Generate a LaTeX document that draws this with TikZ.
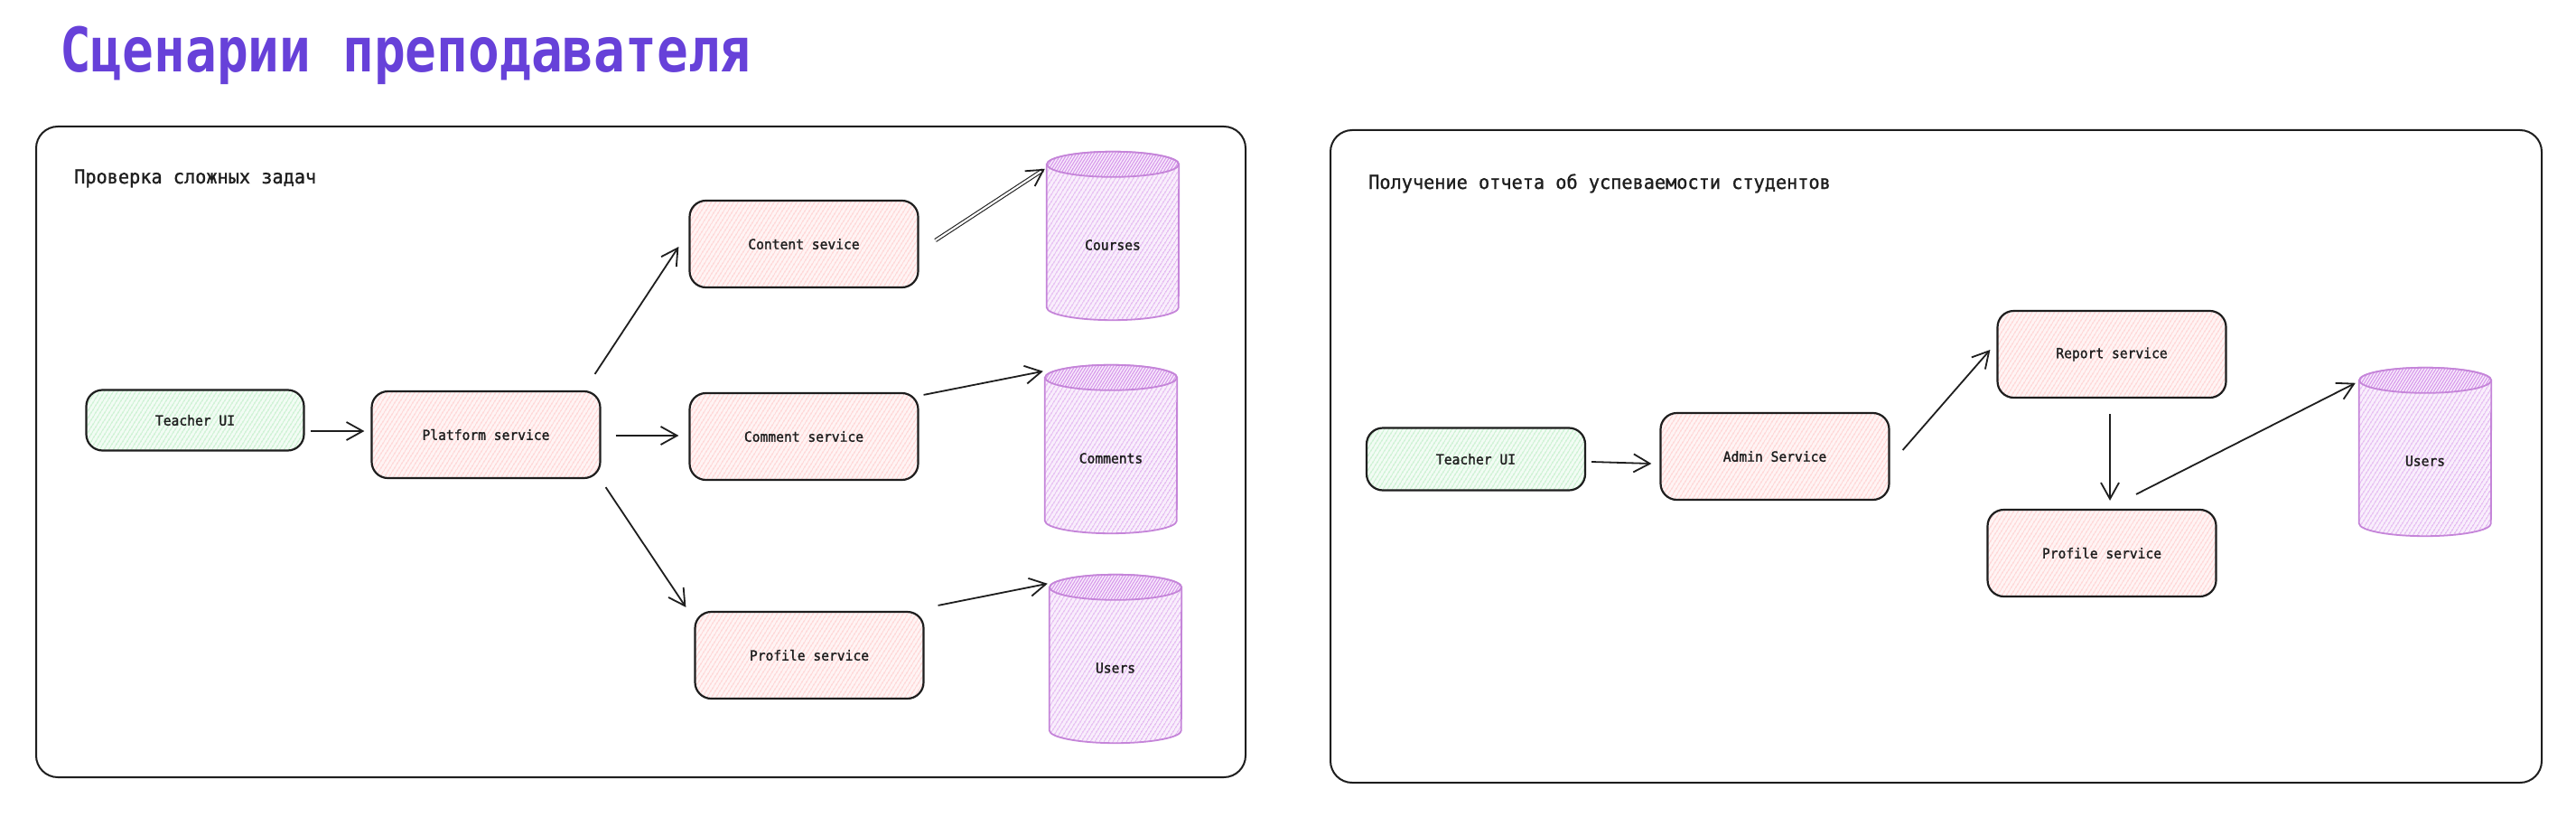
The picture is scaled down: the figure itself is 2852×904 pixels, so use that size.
\documentclass[tikz,border=0pt]{standalone}
\usepackage{fontspec}
\newfontfamily\lblfont{DejaVu Sans Mono}[FakeStretch=0.95, FakeBold=1.5]
\newfontfamily\subfont{DejaVu Sans Mono}[FakeStretch=0.95, FakeBold=1]
\newfontfamily\titlefont{DejaVu Sans Mono Bold}[FakeStretch=0.85]
\usetikzlibrary{arrows.meta,patterns.meta,calc}
\definecolor{strokec}{HTML}{1E1E1E}
\definecolor{titlec}{HTML}{6741D9}
\definecolor{redhatch}{HTML}{FFABAB}
\definecolor{redfill}{HTML}{FFF4F4}
\definecolor{greenhatch}{HTML}{96E3A2}
\definecolor{greenfill}{HTML}{F2FCF4}
\definecolor{purphatch}{HTML}{D89AEC}
\definecolor{purpfill}{HTML}{F9EEFC}
\definecolor{purpstroke}{HTML}{C585D9}
\tikzset{
  lbl/.style={font=\lblfont\fontsize{15.4}{18}\selectfont, text=strokec, inner sep=0pt},
  sub/.style={font=\subfont\fontsize{21.3}{26}\selectfont, text=strokec, inner sep=0pt, anchor=base west},
  frame/.style={draw=strokec, line width=2pt, rounded corners=24pt, inner sep=0pt},
  box/.style={lbl, draw=strokec, line width=2.2pt, rounded corners=18pt,
    minimum width=253pt, minimum height=96pt},
  redbox/.style={box, preaction={fill=redfill},
    pattern={Lines[angle=58,distance=4pt,line width=0.9pt]}, pattern color=redhatch},
  greenbox/.style={box, minimum width=242pt, minimum height=68pt, preaction={fill=greenfill},
    pattern={Lines[angle=58,distance=4pt,line width=0.9pt]}, pattern color=greenhatch},
  dbshape/.style={inner sep=0pt, minimum width=146pt, minimum height=186pt},
  cylbody/.style={draw=purpstroke, line width=1.8pt, preaction={fill=purpfill},
    pattern={Lines[angle=58,distance=4pt,line width=1pt]}, pattern color=purphatch},
  cyltop/.style={draw=purpstroke, line width=1.8pt, preaction={fill=purpfill},
    pattern={Lines[angle=58,distance=2.8pt,line width=1.2pt]}, pattern color=purphatch},
  arr/.style={draw=strokec, line width=1.8pt,
    -{Straight Barb[length=18pt,width=20pt,line width=1.8pt]}},
  dblarr/.style={draw=strokec, line width=1.1pt, double=white, double distance=2.2pt,
    -{Straight Barb[length=18pt,width=20pt,line width=1.8pt]}}
}
\newcommand\dbcyl[3]{%
  \node[dbshape] (#1) at (#2) {};
  \path[cylbody] ([yshift=-14pt]#1.north west) -- ([yshift=14pt]#1.south west)
    arc[start angle=180,end angle=360,x radius=73pt,y radius=14pt]
    -- ([yshift=-14pt]#1.north east)
    arc[start angle=0,end angle=180,x radius=73pt,y radius=14pt] -- cycle;
  \path[cyltop] ([yshift=-14pt]#1.north) ellipse[x radius=73pt,y radius=14pt];
  \node[lbl] (#1-t) at ([yshift=-10pt]#1.center) {#3};
}
\begin{document}
\begin{tikzpicture}[x=1pt,y=1pt]
\useasboundingbox[fill=white] (0,0) rectangle (2852,-904);

\node[anchor=base west, inner sep=0pt, text=titlec,
  font=\titlefont\fontsize{68}{72}\selectfont] (title) at (66,-80) {Сценарии преподавателя};

% frames
\node[frame, minimum width=1339pt, minimum height=720pt] (frameL) at (709.5,-500) {};
\node[frame, minimum width=1341pt, minimum height=722pt] (frameR) at (2143.5,-505) {};

\node[sub] (subL) at (82,-203) {Проверка сложных задач};
\node[sub] (subR) at (1515,-209) {Получение отчета об успеваемости студентов};

% left scenario
\node[greenbox, minimum width=241pt, minimum height=67pt] (tuiL) at (216,-465) {Teacher UI};
\node[redbox] (plat) at (538,-481) {Platform service};
\node[redbox] (content) at (890,-270) {Content sevice};
\node[redbox] (comment) at (890,-483) {Comment service};
\node[redbox] (profL) at (896,-725) {Profile service};
\dbcyl{courses}{1232,-261}{Courses}
\dbcyl{comments}{1230,-497}{Comments}
\dbcyl{usersL}{1235,-729}{Users}

\draw[arr] ($(tuiL.east)+(7,-12)$) -- ($(plat.west)+(-7,4)$);
\draw[arr] ($(plat.north east)+(-7,18)$) -- ($(content.west)+(-11,-3)$);
\draw[arr] ($(plat.east)+(16,-1)$) -- ($(comment.west)+(-11,1)$);
\draw[arr] ($(plat.south east)+(5,-9)$) -- ($(profL.north west)+(-9,4)$);
\draw[dblarr] ($(content.east)+(18,4)$) -- ($(courses.north west)+(-2,-19)$);
\draw[arr] ($(comment.north east)+(5,-3)$) -- ($(comments.north west)+(-2,-7)$);
\draw[arr] ($(profL.north east)+(15,6)$) -- ($(usersL.north west)+(-2,-10)$);

% right scenario
\node[greenbox, minimum width=242pt, minimum height=69pt] (tuiR) at (1634,-508) {Teacher UI};
\node[redbox] (admin) at (1965,-505) {Admin Service};
\node[redbox] (report) at (2338,-392) {Report service};
\node[redbox] (profR) at (2327,-612) {Profile service};
\dbcyl{usersR}{2685,-500}{Users}

\draw[arr] ($(tuiR.east)+(6,-3)$) -- ($(admin.west)+(-9,-8)$);
\draw[arr] ($(admin.east)+(14,7)$) -- ($(report.west)+(-7,5)$);
\draw[arr] ($(report.south)+(-2,-17)$) -- ($(profR.north)+(9,9)$);
\draw[arr] ($(profR.north)+(38,16)$) -- ($(usersR.north west)+(-4,-17)$);
\end{tikzpicture}
\end{document}
